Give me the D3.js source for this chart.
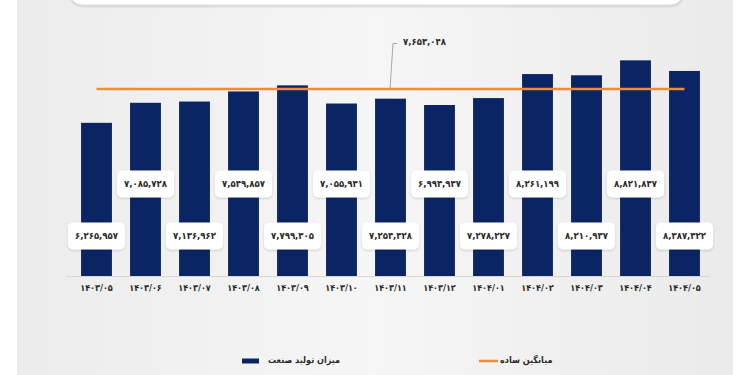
<!DOCTYPE html>
<html>
<head>
<meta charset="utf-8">
<script src="https://cdn.jsdelivr.net/npm/d3@7"></script>
<style>
  html, body { margin: 0; padding: 0; background: #fff; }
  svg { display: block; }
  text { font-family: "DejaVu Sans Condensed", "DejaVu Sans", sans-serif; font-weight: bold; }
</style>
</head>
<body>
<div id="chart"></div>
<script>
// months (solar hijri) and industrial production values
const months = ["1403/05", "1403/06", "1403/07", "1403/08", "1403/09", "1403/10", "1403/11",
  "1403/12", "1404/01", "1404/02", "1404/03", "1404/04", "1404/05"];
const production = [6265957, 7085728, 7136962, 7549857, 7799305, 7055931, 7254328,
  6994937, 7278227, 8261199, 8210937, 8821837, 8387322];
const simpleAverage = 7653048;
const legendLabels = ["میزان تولید صنعت", "میانگین ساده"];

const width = 750, height = 375;
const barColor = "#0b2463";
const avgColor = "#e98f3a";
const font = "DejaVu Sans Condensed, DejaVu Sans, sans-serif";

// latin digits -> persian digits
const fa = (s) => String(s).replace(/\d/g, (d) => "۰۱۲۳۴۵۶۷۸۹"[d]);
const fmt = (v) => fa(d3.format(",")(v));

const svg = d3.select("#chart")
  .append("svg")
  .attr("width", width)
  .attr("height", height);

const defs = svg.append("defs");
const grad = defs.append("linearGradient").attr("id", "bg").attr("x1", 0).attr("x2", 1);
grad.append("stop").attr("offset", "0%").attr("stop-color", "#ececec");
grad.append("stop").attr("offset", "50%").attr("stop-color", "#f6f6f6");
grad.append("stop").attr("offset", "100%").attr("stop-color", "#eaeaea");

const shadow = defs.append("filter").attr("id", "shadow")
  .attr("x", "-20%").attr("y", "-30%").attr("width", "140%").attr("height", "160%");
shadow.append("feDropShadow")
  .attr("dx", 0).attr("dy", 1).attr("stdDeviation", 1.2)
  .attr("flood-color", "#000").attr("flood-opacity", 0.18);

// background panel
svg.append("rect")
  .attr("x", 17).attr("y", 0)
  .attr("width", 716).attr("height", height)
  .attr("fill", "url(#bg)");

// top card edge
svg.append("rect")
  .attr("x", 70).attr("y", -30)
  .attr("width", 613).attr("height", 35)
  .attr("rx", 12)
  .attr("fill", "#fff")
  .attr("stroke", "#dcdcdc")
  .attr("filter", "url(#shadow)");

// scales
const x = d3.scaleBand()
  .domain(months)
  .range([72, 709])
  .paddingInner(0.37)
  .paddingOuter(0.185);

const y = d3.scaleLinear()
  .domain([0, 9000000])
  .range([276, 56]);

// x axis
const xAxis = svg.append("g")
  .attr("transform", `translate(0,${y(0)})`)
  .call(d3.axisBottom(x).tickSize(0).tickPadding(9).tickFormat(fa));
xAxis.select(".domain").attr("stroke", "#d6d6d6").attr("d", "M66,0.5H709");
xAxis.selectAll("text")
  .style("font-family", font)
  .style("font-weight", "bold")
  .style("font-size", "9px")
  .attr("fill", "#2a2a2a");

// bars
svg.append("g")
  .selectAll("rect")
  .data(production)
  .join("rect")
  .attr("x", (d, i) => x(months[i]))
  .attr("y", (d) => y(d))
  .attr("width", x.bandwidth())
  .attr("height", (d) => y(0) - y(d))
  .attr("fill", barColor);

// average line
const xFirst = x(months[0]) + x.bandwidth() / 2;
const xLast = x(months[months.length - 1]) + x.bandwidth() / 2;
svg.append("line")
  .attr("x1", xFirst).attr("x2", xLast)
  .attr("y1", y(simpleAverage)).attr("y2", y(simpleAverage))
  .attr("stroke", avgColor)
  .attr("stroke-width", 2.5);

// average callout
svg.append("path")
  .attr("d", `M397,43.5H393L390,${y(simpleAverage)}`)
  .attr("fill", "none")
  .attr("stroke", "#a8a8a8")
  .attr("stroke-width", 1);
svg.append("text")
  .attr("x", 403).attr("y", 42)
  .attr("dy", "0.35em")
  .style("font-size", "9.5px")
  .attr("fill", "#2a2a2a")
  .text(fmt(simpleAverage));

// value labels, alternating low / high
const labels = svg.append("g")
  .selectAll("g")
  .data(production)
  .join("g")
  .attr("transform", (d, i) =>
    `translate(${x(months[i]) + x.bandwidth() / 2},${i % 2 === 0 ? 236 : 184})`);

labels.append("rect").attr("class", "box");
labels.append("text")
  .attr("text-anchor", "middle")
  .attr("dy", "0.36em")
  .style("font-size", "9.5px")
  .attr("fill", "#2a2a2a")
  .text((d) => fmt(d));

labels.each(function () {
  const g = d3.select(this);
  const w = g.select("text").node().getComputedTextLength() + 14;
  g.select("rect.box")
    .attr("x", -w / 2).attr("y", -13.5)
    .attr("width", w).attr("height", 27)
    .attr("rx", 5)
    .attr("fill", "#fff")
    .attr("filter", "url(#shadow)");
});

// legend
const legend = svg.append("g");
legend.append("rect")
  .attr("x", 242).attr("y", 358.5)
  .attr("width", 17).attr("height", 5)
  .attr("fill", barColor);
legend.append("text")
  .attr("x", 268).attr("y", 360)
  .attr("dy", "0.35em")
  .style("font-size", "9px")
  .attr("fill", "#2a2a2a")
  .text(legendLabels[0]);
legend.append("line")
  .attr("x1", 479).attr("x2", 498)
  .attr("y1", 361).attr("y2", 361)
  .attr("stroke", avgColor)
  .attr("stroke-width", 2.5);
legend.append("text")
  .attr("x", 500).attr("y", 360)
  .attr("dy", "0.35em")
  .style("font-size", "9px")
  .attr("fill", "#2a2a2a")
  .text(legendLabels[1]);
</script>
</body>
</html>
